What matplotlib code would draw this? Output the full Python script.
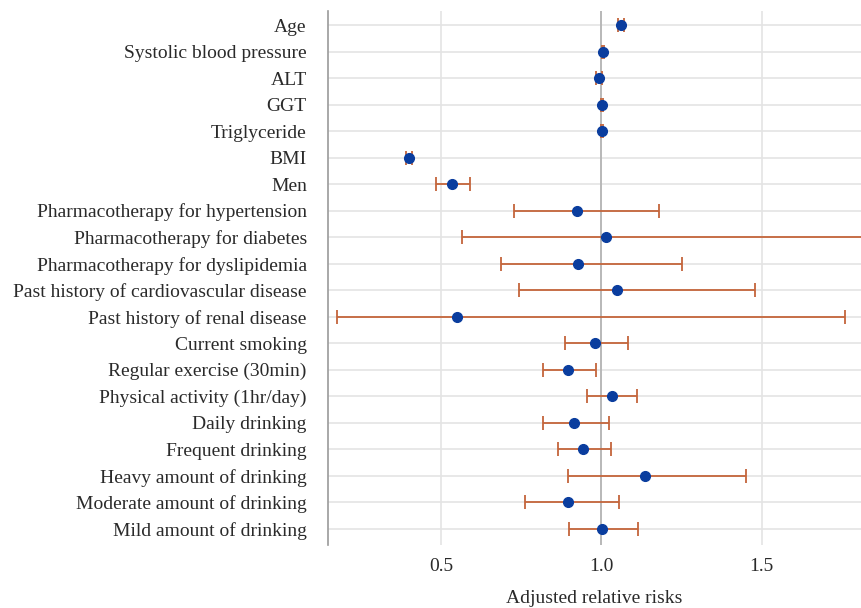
import matplotlib
matplotlib.use('Agg')
import matplotlib.pyplot as plt

labels = ['Age', 'Systolic blood pressure', 'ALT', 'GGT', 'Triglyceride', 'BMI', 'Men',
          'Pharmacotherapy for hypertension', 'Pharmacotherapy for diabetes',
          'Pharmacotherapy for dyslipidemia', 'Past history of cardiovascular disease',
          'Past history of renal disease', 'Current smoking', 'Regular exercise (30min)',
          'Physical activity (1hr/day)', 'Daily drinking', 'Frequent drinking',
          'Heavy amount of drinking', 'Moderate amount of drinking', 'Mild amount of drinking']
rr = [1.062, 1.006, 0.994, 1.003, 1.003, 0.400, 0.534, 0.925, 1.014, 0.928, 1.049, 0.550,
      0.980, 0.898, 1.033, 0.914, 0.944, 1.137, 0.898, 1.002]
ci_low = [1.052, 1.002, 0.985, 0.999, 1.000, 0.390, 0.485, 0.727, 0.567, 0.689, 0.745, 0.176,
          0.888, 0.817, 0.957, 0.819, 0.865, 0.896, 0.762, 0.901]
ci_high = [1.072, 1.010, 1.003, 1.007, 1.006, 0.410, 0.590, 1.180, 1.950, 1.252, 1.480, 1.760,
           1.084, 0.984, 1.113, 1.023, 1.030, 1.450, 1.057, 1.114]

plt.rcParams['font.family'] = ['Liberation Serif', 'DejaVu Serif']

fig = plt.figure(figsize=(8.61, 6.08), dpi=100)
ax = fig.add_axes([0.3805, 0.1036, 0.6195, 0.8783])

ypos = list(range(len(labels)))
err = [[r - lo for r, lo in zip(rr, ci_low)], [hi - r for r, hi in zip(rr, ci_high)]]

ax.axvline(1.0, color='#b4b4b4', lw=1.3, zorder=1)
ax.errorbar(rr, ypos, xerr=err, fmt='none', ecolor='#c4653b', elinewidth=1.3,
            capsize=5, capthick=1.3, zorder=2)
ax.plot(rr, ypos, 'o', color='#0a3d9e', markersize=7, zorder=3)

ax.set_xlim(0.147, 1.81)
ax.set_ylim(len(labels) - 1 + 0.62, -0.53)
ax.set_xticks([0.5, 1.0, 1.5])
ax.set_xticklabels(['0.5', '1.0', '1.5'])
ax.set_yticks(ypos)
ax.set_yticklabels(labels)
ax.tick_params(axis='both', length=0, labelsize=14, colors='#2a2a2a')
ax.tick_params(axis='x', pad=9)
ax.tick_params(axis='y', pad=15)
ax.grid(True, color='#e4e4e4', lw=1.2, zorder=0)
ax.set_axisbelow(True)
for s in ['top', 'right', 'bottom']:
    ax.spines[s].set_visible(False)
ax.spines['left'].set_color('#9a9a9a')
ax.spines['left'].set_linewidth(1.2)
ax.set_xlabel('Adjusted relative risks', fontsize=14, color='#2a2a2a', labelpad=11)

fig.savefig('out.png', dpi=100)
